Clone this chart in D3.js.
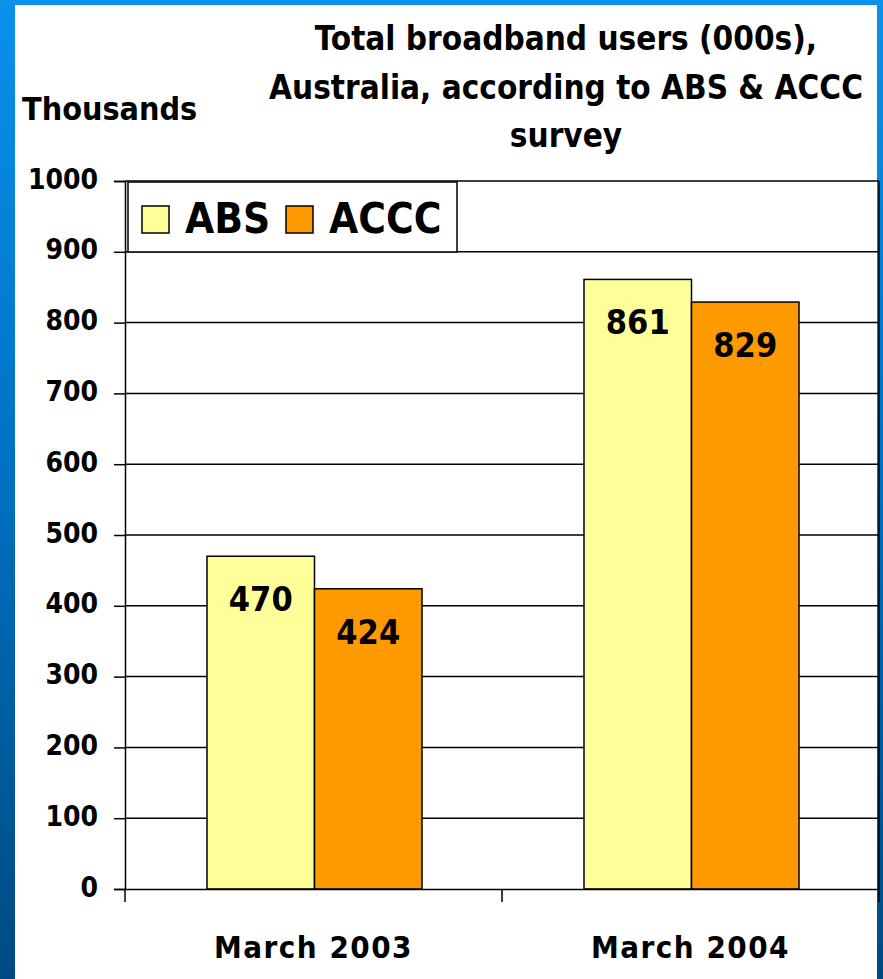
<!DOCTYPE html>
<html>
<head>
<meta charset="utf-8">
<script src="https://cdn.jsdelivr.net/npm/d3@7/dist/d3.min.js"></script>
<style>
  html, body { margin: 0; padding: 0; background: #fff; }
  svg { display: block; }
  text { font-family: "DejaVu Sans Condensed", "DejaVu Sans", sans-serif; font-weight: bold; fill: #000; }
</style>
</head>
<body>
<svg id="chart" width="883" height="979"></svg>
<script>
// ---- data ----
const categories = ["March 2003", "March 2004"];
const seriesNames = ["ABS", "ACCC"];
const absValues = [470, 861];
const acccValues = [424, 829];
const yTicks = [0, 100, 200, 300, 400, 500, 600, 700, 800, 900, 1000];
const titleLines = ["Total broadband users (000s),", "Australia, according to ABS & ACCC", "survey"];
const yAxisLabel = "Thousands";
const seriesColors = ["#FFFF99", "#FF9900"];

const W = 883, H = 979;
const svg = d3.select("#chart");

// background gradient
const defs = svg.append("defs");
const grad = defs.append("linearGradient").attr("id", "bg").attr("x1", 0).attr("y1", 0).attr("x2", 0).attr("y2", 1);
grad.append("stop").attr("offset", "0%").attr("stop-color", "#0A91EC");
grad.append("stop").attr("offset", "50%").attr("stop-color", "#0070C0");
grad.append("stop").attr("offset", "100%").attr("stop-color", "#004A82");
svg.append("rect").attr("width", W).attr("height", H).attr("fill", "url(#bg)");
svg.append("rect").attr("x", 15).attr("y", 5).attr("width", 862).attr("height", H).attr("fill", "#fff");

// scales
const plot = { left: 125, right: 879, top: 181, bottom: 889 };
const x = d3.scaleBand().domain(categories).range([plot.left, plot.right]).padding(0);
const groupW = 215;
const xSub = d3.scaleBand().domain(seriesNames).range([0, groupW]).padding(0);
const y = d3.scaleLinear().domain([0, 1000]).range([plot.bottom, plot.top]);

const data = categories.map((c, i) => ({ cat: c, values: [
  { name: seriesNames[0], value: absValues[i], color: seriesColors[0] },
  { name: seriesNames[1], value: acccValues[i], color: seriesColors[1] }
]}));

// gridlines
svg.append("g").selectAll("line").data(yTicks.filter(t => t > 0)).join("line")
  .attr("x1", plot.left).attr("x2", plot.right)
  .attr("y1", d => y(d)).attr("y2", d => y(d))
  .attr("stroke", "#000").attr("stroke-width", 1.5);
// right border
svg.append("line").attr("x1", plot.right).attr("x2", plot.right).attr("y1", plot.top).attr("y2", plot.bottom)
  .attr("stroke", "#000").attr("stroke-width", 1.5);

// bars
const groups = svg.append("g").selectAll("g").data(data).join("g")
  .attr("transform", d => `translate(${x(d.cat) + (x.bandwidth() - groupW) / 2 + 1},0)`);
groups.selectAll("rect").data(d => d.values).join("rect")
  .attr("x", d => xSub(d.name)).attr("width", xSub.bandwidth())
  .attr("y", d => y(d.value)).attr("height", d => y(0) - y(d.value))
  .attr("fill", d => d.color).attr("stroke", "#000").attr("stroke-width", 1.5);
groups.selectAll("text").data(d => d.values).join("text")
  .attr("x", d => xSub(d.name) + xSub.bandwidth() / 2)
  .attr("y", d => y(d.value) + 55)
  .attr("text-anchor", "middle").attr("font-size", 34)
  .text(d => d.value);

// y axis
const yAxis = d3.axisLeft(y).tickValues(yTicks).tickFormat(d3.format("d")).tickSize(11).tickPadding(16);
const gy = svg.append("g").attr("transform", `translate(${plot.left},0)`).call(yAxis);
gy.selectAll("path, line").attr("stroke", "#000").attr("stroke-width", 1.5);
gy.selectAll("text").attr("font-size", 28).attr("dy", "0.25em")
  .style("font-family", '"DejaVu Sans Condensed", "DejaVu Sans", sans-serif').style("font-weight", "bold");

// x axis
const xAxis = d3.axisBottom(x).tickSize(0).tickPadding(47);
const gx = svg.append("g").attr("transform", `translate(0,${plot.bottom})`).call(xAxis);
gx.select(".domain").attr("stroke", "#000").attr("stroke-width", 1.5);
gx.selectAll("text").attr("font-size", 31).attr("letter-spacing", 1.5)
  .style("font-family", '"DejaVu Sans Condensed", "DejaVu Sans", sans-serif').style("font-weight", "bold");
// category separator ticks
const sepTicks = [x(categories[0]), x(categories[1]), x(categories[1]) + x.bandwidth()];
svg.append("g").selectAll("line").data(sepTicks).join("line")
  .attr("x1", d => d).attr("x2", d => d).attr("y1", plot.bottom).attr("y2", plot.bottom + 13)
  .attr("stroke", "#000").attr("stroke-width", 1.5);

// legend
const lg = svg.append("g");
lg.append("rect").attr("x", 128).attr("y", 182).attr("width", 329).attr("height", 70)
  .attr("fill", "#fff").attr("stroke", "#000").attr("stroke-width", 1.5);
const legendX = [142, 286];
seriesNames.forEach((s, i) => {
  lg.append("rect").attr("x", legendX[i]).attr("y", 206).attr("width", 27).attr("height", 27)
    .attr("fill", seriesColors[i]).attr("stroke", "#000").attr("stroke-width", 1.5);
  lg.append("text").attr("x", legendX[i] + 43).attr("y", 233).attr("font-size", 42).text(s);
});

// title
svg.append("g").selectAll("text").data(titleLines).join("text")
  .attr("x", 566).attr("y", (d, i) => 50 + i * 48.5)
  .attr("text-anchor", "middle").attr("font-size", 33)
  .text(d => d);

// y axis label
svg.append("text").attr("x", 22).attr("y", 120).attr("font-size", 32).text(yAxisLabel);
</script>
</body>
</html>
